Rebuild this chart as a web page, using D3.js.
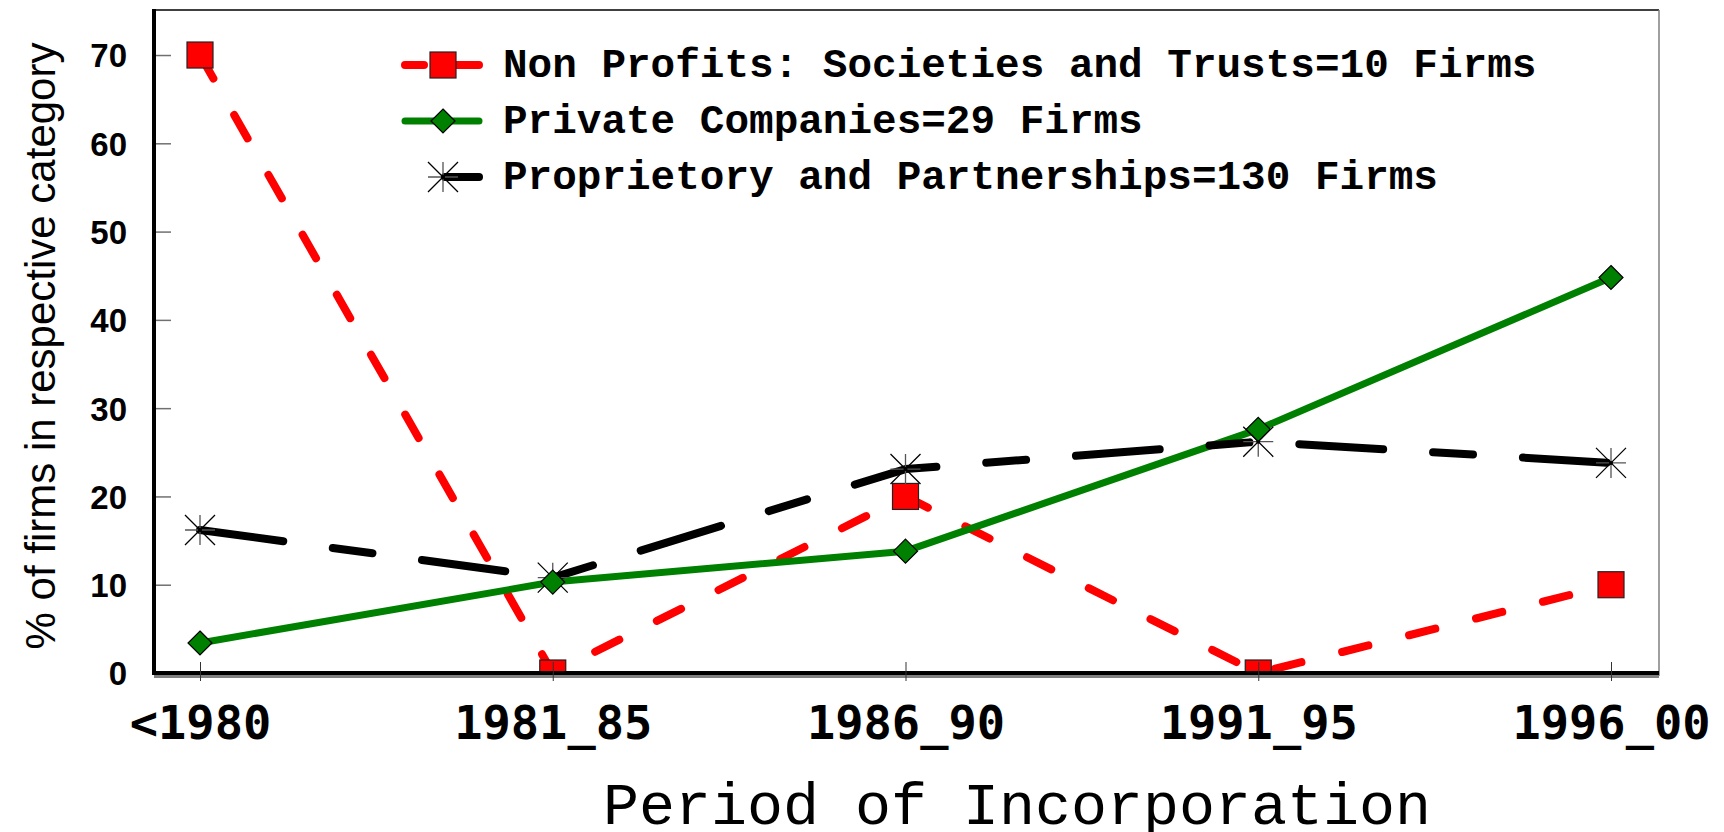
<!DOCTYPE html>
<html>
<head>
<meta charset="utf-8">
<script src="https://cdn.jsdelivr.net/npm/d3@7/dist/d3.min.js"></script>
<style>
  html, body { margin: 0; padding: 0; background: #fff; }
  svg { display: block; }
</style>
</head>
<body>
<script>
const categories = ["<1980", "1981_85", "1986_90", "1991_95", "1996_00"];
const nonProfits = [70, 0, 20, 0, 10];
const privateCos = [3.4, 10.3, 13.8, 27.6, 44.8];
const proprietary = [16.2, 10.8, 23.1, 26.2, 23.8];
const yTicks = [0, 10, 20, 30, 40, 50, 60, 70];
const seriesNames = [
  "Non Profits: Societies and Trusts=10 Firms",
  "Private Companies=29 Firms",
  "Proprietory and Partnerships=130 Firms"
];
const xTitle = "Period of Incorporation";
const yTitle = "% of firms in respective category";

const W = 1724, H = 832;
const plot = { left: 154, right: 1659, top: 10, bottom: 673 };

const svg = d3.select("body").append("svg").attr("width", W).attr("height", H);

const x = d3.scalePoint().domain(categories).range([200, 1611]);
const y = d3.scaleLinear().domain([0, 75.1]).range([plot.bottom, plot.top]);

svg.append("defs").append("clipPath").attr("id", "plotclip")
  .append("rect").attr("x", plot.left).attr("y", plot.top)
  .attr("width", plot.right - plot.left).attr("height", plot.bottom - plot.top);

// frame: top and right borders
svg.append("line").attr("x1", plot.left).attr("x2", plot.right).attr("y1", plot.top).attr("y2", plot.top)
  .attr("stroke", "#000").attr("stroke-width", 1.5);
svg.append("line").attr("x1", plot.right).attr("x2", plot.right).attr("y1", plot.top).attr("y2", plot.bottom + 3)
  .attr("stroke", "#808080").attr("stroke-width", 1.5);

// y ticks (inside) via axis
const yAxis = d3.axisRight(y).tickValues(yTicks).tickSize(17).tickFormat("");
const yg = svg.append("g").attr("transform", `translate(${plot.left},0)`).call(yAxis);
yg.select(".domain").remove();
yg.selectAll(".tick line").attr("stroke", "#707070").attr("stroke-width", 1.5);

// y tick labels
const ylab = d3.axisLeft(y).tickValues(yTicks).tickSize(0).tickPadding(0);
const ylg = svg.append("g").attr("transform", `translate(${plot.left - 27},0)`).call(ylab);
ylg.select(".domain").remove();
ylg.selectAll("text")
  .attr("font-family", "'Liberation Sans', Arial, sans-serif")
  .attr("font-weight", "bold").attr("font-size", 33).attr("fill", "#000")
  .attr("dy", "0.36em");

// series
const series = [
  { name: seriesNames[0], values: nonProfits, color: "#ff0000", width: 8, dash: "27 42", marker: "square" },
  { name: seriesNames[1], values: privateCos, color: "#008000", width: 7, dash: null, marker: "diamond" },
  { name: seriesNames[2], values: proprietary, color: "#000000", width: 8, dash: "84 50 40 50", marker: "star" }
];

const line = d3.line().x((d, i) => x(categories[i])).y(d => y(d));
const gLines = svg.append("g").attr("clip-path", "url(#plotclip)");
series.forEach(s => {
  gLines.append("path").datum(s.values).attr("d", line)
    .attr("fill", "none").attr("stroke", s.color).attr("stroke-width", s.width)
    .attr("stroke-linecap", "round").attr("stroke-linejoin", "round")
    .attr("stroke-dasharray", s.dash);
});

function drawMarker(g, type, cx, cy) {
  if (type === "square") {
    g.append("rect").attr("x", cx - 13).attr("y", cy - 13).attr("width", 26).attr("height", 26)
      .attr("fill", "#ff0000").attr("stroke", "#222").attr("stroke-width", 1.2);
  } else if (type === "diamond") {
    const r = 12;
    g.append("path").attr("d", `M${cx},${cy - r}L${cx + r},${cy}L${cx},${cy + r}L${cx - r},${cy}Z`)
      .attr("fill", "#008000").attr("stroke", "#000").attr("stroke-width", 1.2);
  } else if (type === "star") {
    const r = 15, d = 15;
    g.append("path").attr("d", `M${cx - r},${cy}L${cx + r},${cy}M${cx},${cy - r}L${cx},${cy + r}`)
      .attr("stroke", "#555").attr("stroke-width", 1.3).attr("fill", "none");
    g.append("path").attr("d", `M${cx - d},${cy - d}L${cx + d},${cy + d}M${cx - d},${cy + d}L${cx + d},${cy - d}`)
      .attr("stroke", "#000").attr("stroke-width", 1.3).attr("fill", "none");
    g.append("circle").attr("cx", cx).attr("cy", cy).attr("r", 2).attr("fill", "#000");
  }
}

const gMarkers = svg.append("g").attr("clip-path", "url(#plotclip)");
[series[0], series[2], series[1]].forEach(s => {
  s.values.forEach((v, i) => drawMarker(gMarkers, s.marker, x(categories[i]), y(v)));
});

// left axis (thick)
svg.append("line").attr("x1", plot.left).attr("x2", plot.left).attr("y1", plot.top - 1).attr("y2", plot.bottom + 2)
  .attr("stroke", "#000").attr("stroke-width", 4);
// bottom axis: black with grey shadow
svg.append("line").attr("x1", plot.left).attr("x2", plot.right).attr("y1", plot.bottom + 3.5).attr("y2", plot.bottom + 3.5)
  .attr("stroke", "#808080").attr("stroke-width", 3);
svg.append("line").attr("x1", plot.left - 2).attr("x2", plot.right).attr("y1", plot.bottom).attr("y2", plot.bottom)
  .attr("stroke", "#000").attr("stroke-width", 4);

// x ticks crossing axis
const xAxis = d3.axisBottom(x).tickSize(0).tickFormat("");
const xg = svg.append("g").attr("transform", `translate(0,${plot.bottom})`).call(xAxis);
xg.select(".domain").remove();
xg.selectAll(".tick").append("line").attr("y1", -11).attr("y2", 8)
  .attr("stroke", "#333").attr("stroke-width", 1);

// x tick labels
const xlab = d3.axisBottom(x).tickSize(0).tickPadding(0);
const xlg = svg.append("g").attr("transform", `translate(0,739)`).call(xlab);
xlg.select(".domain").remove();
xlg.selectAll("text")
  .attr("font-family", "'DejaVu Sans Mono', monospace").attr("font-weight", "bold")
  .attr("font-size", 47).attr("fill", "#000").attr("dy", 0).attr("y", 0);

// axis titles
svg.append("text").attr("x", 1017).attr("y", 824).attr("text-anchor", "middle")
  .attr("font-family", "'Liberation Mono', 'Courier New', monospace").attr("font-size", 60)
  .attr("fill", "#000").text(xTitle);
svg.append("text").attr("transform", "translate(55,346) rotate(-90)").attr("text-anchor", "middle")
  .attr("font-family", "'Liberation Sans', Arial, sans-serif").attr("font-size", 42)
  .attr("fill", "#000").text(yTitle);

// legend
const legendRows = [65, 121, 177];
const legendDash = ["19 20 40", null, "40 40"];
const legendOffset = [0, 0, 40];
const lg = svg.append("g");
series.forEach((s, i) => {
  const cy = legendRows[i];
  lg.append("line").attr("x1", 405).attr("x2", 479).attr("y1", cy).attr("y2", cy)
    .attr("stroke", s.color).attr("stroke-width", s.width).attr("stroke-linecap", "round")
    .attr("stroke-dasharray", legendDash[i]).attr("stroke-dashoffset", legendOffset[i]);
  drawMarker(lg, s.marker, 443, cy);
  lg.append("text").attr("x", 503).attr("y", cy + 12)
    .attr("font-family", "'Liberation Mono', 'Courier New', monospace").attr("font-weight", "bold")
    .attr("font-size", 41).attr("fill", "#000").text(s.name);
});
</script>
</body>
</html>
